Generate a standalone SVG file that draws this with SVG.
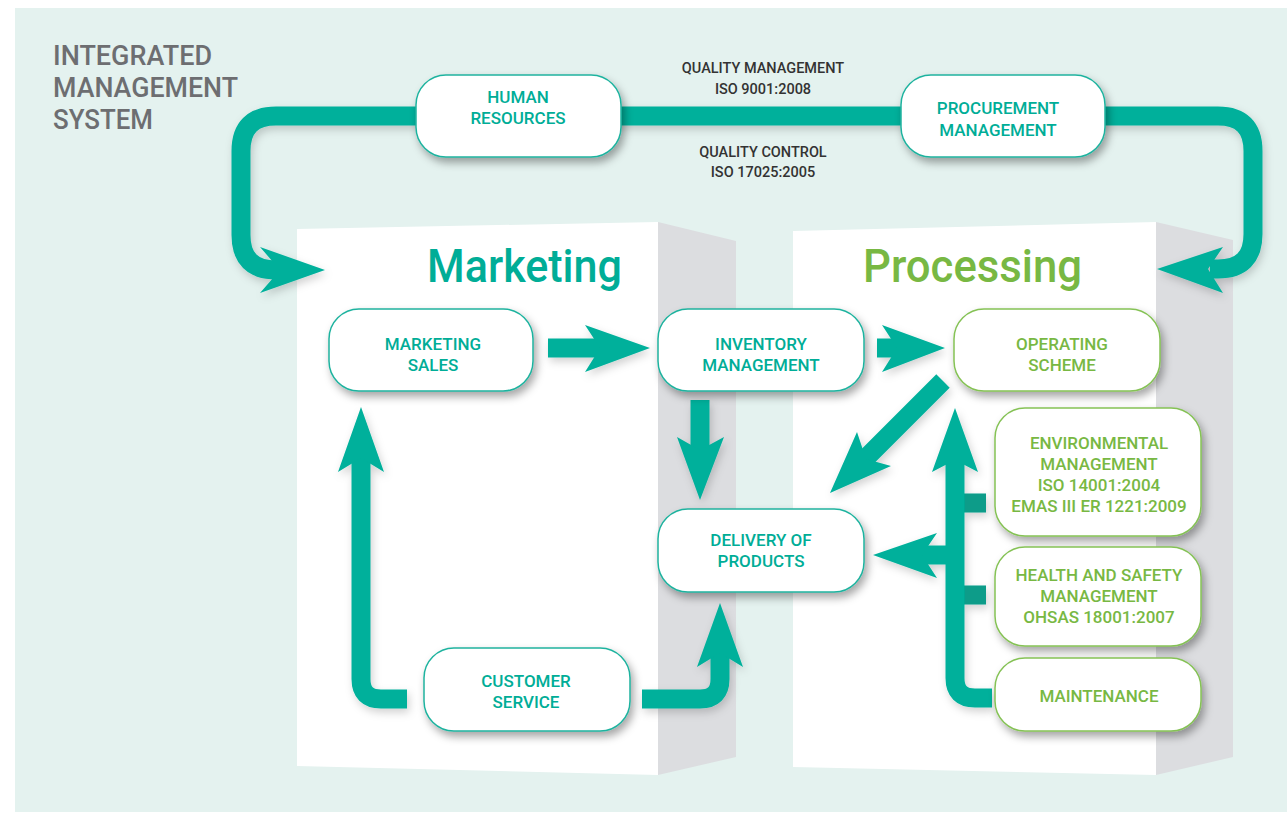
<svg xmlns="http://www.w3.org/2000/svg" width="1287" height="814" viewBox="0 0 1287 814">
<defs>
<filter id="sh" x="-20%" y="-20%" width="150%" height="160%">
<feDropShadow dx="3" dy="5" stdDeviation="4" flood-color="#000" flood-opacity="0.35"/>
</filter>
<filter id="ash" x="-20%" y="-20%" width="150%" height="150%">
<feDropShadow dx="2" dy="4" stdDeviation="4" flood-color="#000" flood-opacity="0.18"/>
</filter>
<style>
.bg{fill:#e4f2ef}
.front{fill:#ffffff}
.side{fill:#dcdde0}
.tn{fill:#ffffff;stroke:#1fb39f;stroke-width:1.5}
.gn{fill:#ffffff;stroke:#85c255;stroke-width:1.5}
.tl{font-family:Roboto,"Liberation Sans",sans-serif;font-weight:500;font-size:17px;fill:#00ad97;text-anchor:middle}
.gl{font-family:Roboto,"Liberation Sans",sans-serif;font-weight:500;font-size:17px;fill:#78b843;text-anchor:middle}
.q{font-family:Roboto,"Liberation Sans",sans-serif;font-weight:500;font-size:14.5px;fill:#333333;text-anchor:middle}
.title{font-family:Roboto,"Liberation Sans",sans-serif;font-weight:500;font-size:27px;fill:#6d6e71}
.big{font-family:Roboto,"Liberation Sans",sans-serif;font-weight:500;font-size:46px}
.shaft{fill:none;stroke:#00b09b;stroke-width:19}
.stub{fill:none;stroke:#079c89;stroke-width:19}
.head{fill:#00b09b}
</style>
</defs>
<rect class="bg" x="15" y="8" width="1272" height="804"/>
<text class="title" x="53" y="65" textLength="159" lengthAdjust="spacingAndGlyphs">INTEGRATED</text>
<text class="title" x="53" y="97" textLength="185" lengthAdjust="spacingAndGlyphs">MANAGEMENT</text>
<text class="title" x="53" y="129" textLength="100" lengthAdjust="spacingAndGlyphs">SYSTEM</text>
<g id="marketing-block">
<polygon class="front" points="297,229 658,222 658,775 297,766"/>
<polygon class="side" points="658,222 736,241 736,757 658,775"/>
<text class="big" x="622" y="282" text-anchor="end" fill="#00ad97" textLength="195" lengthAdjust="spacingAndGlyphs">Marketing</text>
</g>
<g id="processing-block">
<polygon class="front" points="793,231 1156,222 1156,775 793,767"/>
<polygon class="side" points="1156,222 1233,240 1233,757 1156,775"/>
<text class="big" x="863" y="282" fill="#78b843" textLength="219" lengthAdjust="spacingAndGlyphs">Processing</text>
</g>
<text class="q"><tspan x="763" y="73">QUALITY MANAGEMENT</tspan><tspan x="763" y="94">ISO 9001:2008</tspan></text>
<text class="q"><tspan x="763" y="157">QUALITY CONTROL</tspan><tspan x="763" y="177">ISO 17025:2005</tspan></text>
<g id="connectors" filter="url(#ash)">
<path class="shaft" d="M 282 270 H 276 Q 241 270 241 235 V 151 Q 241 116 276 116 H 1218 Q 1253 116 1253 151 V 234 Q 1253 269 1218 269 H 1210"/>
<polygon class="head" points="325,270 260,247 280,270 260,293"/>
<polygon class="head" points="1157,269 1223,247 1208,269 1223,293"/>
<path class="shaft" d="M 548 348 H 600"/>
<polygon class="head" points="650,348 585,325 600,348 585,372"/>
<path class="shaft" d="M 877 348 H 897"/>
<polygon class="head" points="945,348 882,325 897,348 882,372"/>
<path class="shaft" d="M 700 400 V 452"/>
<polygon class="head" points="700,500 677,437 700,450 724,437"/>
<path class="shaft" d="M 943 381 L 862 462"/>
<polygon class="head" points="830,493 857,432 866,459 891,466"/>
<path class="stub" d="M 955 503 H 986 M 955 595 H 986"/>
<path class="shaft" d="M 992 698 H 975 Q 955 698 955 678 V 458"/>
<polygon class="head" points="955,408 932,472 955,460 978,472"/>
<path class="shaft" d="M 946 555 H 920"/>
<polygon class="head" points="873,555 937,533 922,555 937,578"/>
<path class="shaft" d="M 407 699 H 381 Q 361 699 361 679 V 458"/>
<polygon class="head" points="361,407 338,472 361,458 384,472"/>
<path class="shaft" d="M 642 699 H 700 Q 720 699 720 679 V 653"/>
<polygon class="head" points="720,603 697,667 720,653 743,667"/>
</g>
<g id="human-resources"><rect class="tn" filter="url(#sh)" x="416" y="75" width="205" height="82" rx="30"/><text class="tl"><tspan x="518" y="103">HUMAN</tspan><tspan x="518" y="124">RESOURCES</tspan></text></g>
<g id="procurement"><rect class="tn" filter="url(#sh)" x="901" y="75" width="204" height="82" rx="30"/><text class="tl"><tspan x="998" y="114">PROCUREMENT</tspan><tspan x="998" y="136">MANAGEMENT</tspan></text></g>
<g id="marketing-sales"><rect class="tn" filter="url(#sh)" x="329" y="309" width="204" height="82" rx="30"/><text class="tl"><tspan x="433" y="350">MARKETING</tspan><tspan x="433" y="371">SALES</tspan></text></g>
<g id="inventory"><rect class="tn" filter="url(#sh)" x="658" y="309" width="206" height="82" rx="30"/><text class="tl"><tspan x="761" y="350">INVENTORY</tspan><tspan x="761" y="371">MANAGEMENT</tspan></text></g>
<g id="operating-scheme"><rect class="gn" filter="url(#sh)" x="954" y="309" width="206" height="82" rx="30"/><text class="gl"><tspan x="1062" y="350">OPERATING</tspan><tspan x="1062" y="371">SCHEME</tspan></text></g>
<g id="delivery"><rect class="tn" filter="url(#sh)" x="658" y="509" width="206" height="83" rx="30"/><text class="tl"><tspan x="761" y="546">DELIVERY OF</tspan><tspan x="761" y="567">PRODUCTS</tspan></text></g>
<g id="customer-service"><rect class="tn" filter="url(#sh)" x="424" y="648" width="206" height="83" rx="30"/><text class="tl"><tspan x="526" y="687">CUSTOMER</tspan><tspan x="526" y="708">SERVICE</tspan></text></g>
<g id="environmental"><rect class="gn" filter="url(#sh)" x="995" y="408" width="206" height="128" rx="30"/><text class="gl"><tspan x="1099" y="449">ENVIRONMENTAL</tspan><tspan x="1099" y="470">MANAGEMENT</tspan><tspan x="1099" y="491">ISO 14001:2004</tspan><tspan x="1099" y="512">EMAS III ER 1221:2009</tspan></text></g>
<g id="health-safety"><rect class="gn" filter="url(#sh)" x="995" y="547" width="206" height="99" rx="30"/><text class="gl"><tspan x="1099" y="581">HEALTH AND SAFETY</tspan><tspan x="1099" y="602">MANAGEMENT</tspan><tspan x="1099" y="623">OHSAS 18001:2007</tspan></text></g>
<g id="maintenance"><rect class="gn" filter="url(#sh)" x="995" y="658" width="206" height="73" rx="30"/><text class="gl"><tspan x="1099" y="702">MAINTENANCE</tspan></text></g>
</svg>
